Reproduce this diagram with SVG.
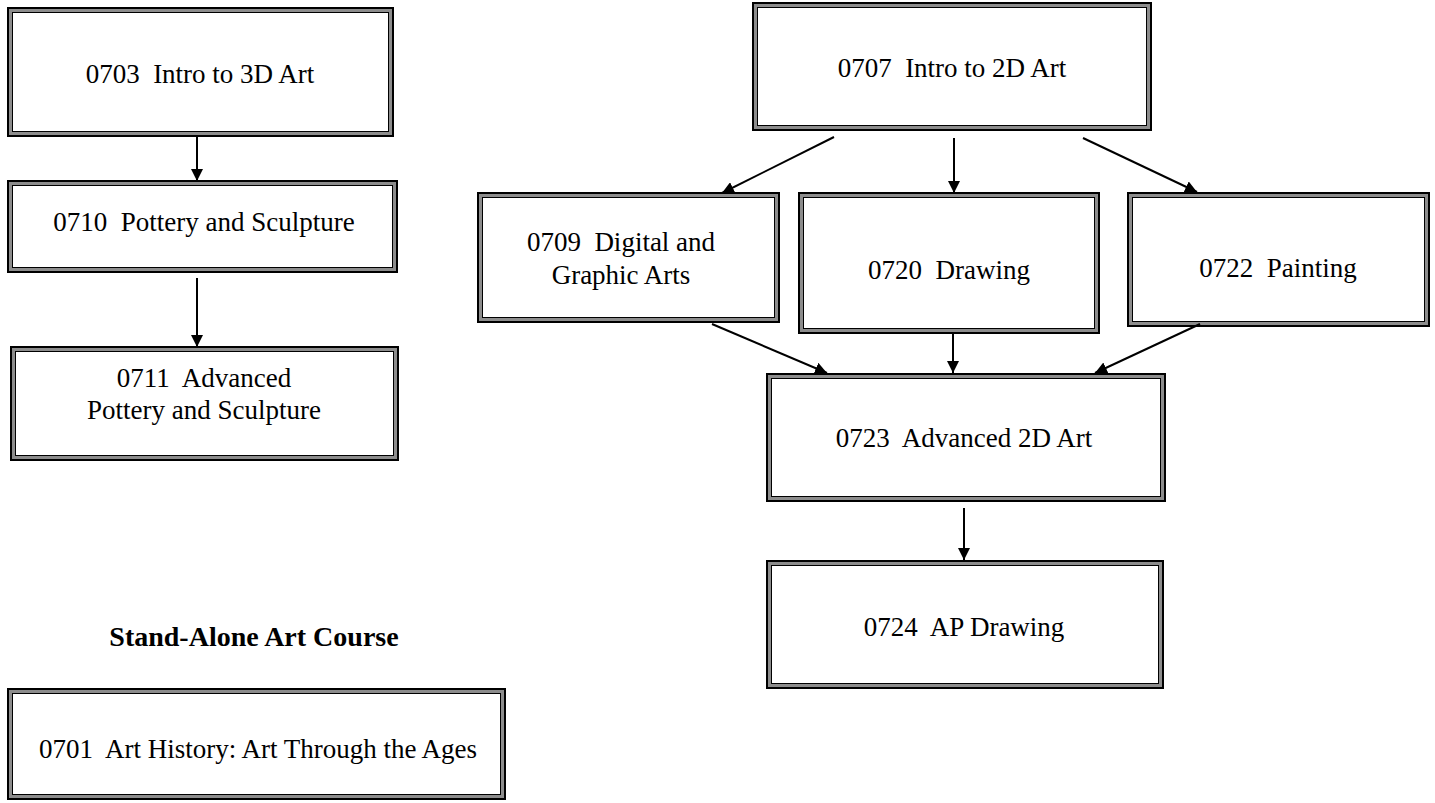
<svg xmlns="http://www.w3.org/2000/svg" width="1435" height="803" viewBox="0 0 1435 803">
  <style>
    .frame { fill: #ffffff; stroke: #000000; stroke-width: 6; }
    .band { fill: none; stroke: #8c8c8c; stroke-width: 3; }
    .label { font-family: "Liberation Serif", "Times New Roman", serif; font-size: 27px; fill: #000000; text-anchor: middle; white-space: pre; }
    .title { font-family: "Liberation Serif", "Times New Roman", serif; font-size: 28px; font-weight: bold; fill: #000000; text-anchor: middle; }
    .link { stroke: #000000; stroke-width: 2; fill: none; marker-end: url(#head); }
  </style>
  <defs>
    <marker id="head" viewBox="0 0 10 10" refX="10" refY="5" markerWidth="6" markerHeight="6" markerUnits="strokeWidth" orient="auto">
      <path d="M0,0 L10,5 L0,10 Z" fill="#000000"/>
    </marker>
  </defs>

  <!-- 3D art track -->
  <g id="n0703">
    <rect class="frame" x="10" y="10" width="381" height="124"/>
    <rect class="band" x="10.5" y="10.5" width="380" height="123"/>
    <text class="label" x="200" y="83">0703  Intro to 3D Art</text>
  </g>
  <g id="n0710">
    <rect class="frame" x="10" y="183" width="385" height="87"/>
    <rect class="band" x="10.5" y="183.5" width="384" height="86"/>
    <text class="label" x="204" y="231">0710  Pottery and Sculpture</text>
  </g>
  <g id="n0711">
    <rect class="frame" x="13" y="349" width="383" height="109"/>
    <rect class="band" x="13.5" y="349.5" width="382" height="108"/>
    <text class="label" x="204" y="387">0711  Advanced</text>
    <text class="label" x="204" y="419">Pottery and Sculpture</text>
  </g>

  <!-- 2D art track -->
  <g id="n0707">
    <rect class="frame" x="755" y="5" width="394" height="123"/>
    <rect class="band" x="755.5" y="5.5" width="393" height="122"/>
    <text class="label" x="952" y="77">0707  Intro to 2D Art</text>
  </g>
  <g id="n0709">
    <rect class="frame" x="480" y="195" width="297" height="125"/>
    <rect class="band" x="480.5" y="195.5" width="296" height="124"/>
    <text class="label" x="621" y="251">0709  Digital and</text>
    <text class="label" x="621" y="284">Graphic Arts</text>
  </g>
  <g id="n0720">
    <rect class="frame" x="801" y="195" width="296" height="136"/>
    <rect class="band" x="801.5" y="195.5" width="295" height="135"/>
    <text class="label" x="949" y="279">0720  Drawing</text>
  </g>
  <g id="n0722">
    <rect class="frame" x="1130" y="195" width="297" height="129"/>
    <rect class="band" x="1130.5" y="195.5" width="296" height="128"/>
    <text class="label" x="1278" y="277">0722  Painting</text>
  </g>
  <g id="n0723">
    <rect class="frame" x="769" y="376" width="394" height="123"/>
    <rect class="band" x="769.5" y="376.5" width="393" height="122"/>
    <text class="label" x="964" y="447">0723  Advanced 2D Art</text>
  </g>
  <g id="n0724">
    <rect class="frame" x="769" y="563" width="392" height="123"/>
    <rect class="band" x="769.5" y="563.5" width="391" height="122"/>
    <text class="label" x="964" y="636">0724  AP Drawing</text>
  </g>

  <!-- stand-alone course -->
  <text id="standalone-heading" class="title" x="254" y="646">Stand-Alone Art Course</text>
  <g id="n0701">
    <rect class="frame" x="10" y="691" width="493" height="106"/>
    <rect class="band" x="10.5" y="691.5" width="492" height="105"/>
    <text class="label" x="258" y="758">0701  Art History: Art Through the Ages</text>
  </g>

  <!-- prerequisite arrows -->
  <g id="connectors">
    <line class="link" x1="197" y1="137" x2="197" y2="181"/>
    <line class="link" x1="197" y1="278" x2="197" y2="347"/>
    <line class="link" x1="834" y1="137" x2="722" y2="193"/>
    <line class="link" x1="954" y1="138" x2="954" y2="193"/>
    <line class="link" x1="1083" y1="138" x2="1197" y2="192"/>
    <line class="link" x1="712" y1="324" x2="827" y2="373"/>
    <line class="link" x1="953" y1="334" x2="953" y2="373"/>
    <line class="link" x1="1200" y1="324" x2="1095" y2="373"/>
    <line class="link" x1="964" y1="508" x2="964" y2="560"/>
  </g>
</svg>
